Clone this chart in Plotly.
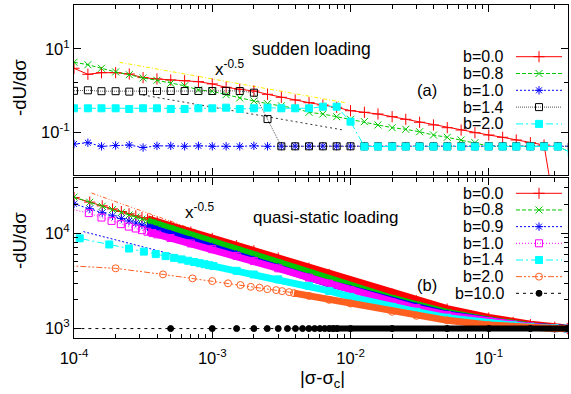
import plotly.graph_objects as go

FONT = "Liberation Sans, Arial, sans-serif"

# ---------------- top panel (a): sudden loading ----------------
top_x = [1.00e-4, 1.26e-4, 1.58e-4, 2.00e-4, 2.51e-4, 3.16e-4, 3.98e-4, 5.01e-4, 6.31e-4, 7.94e-4,
         1.00e-3, 1.26e-3, 1.58e-3, 2.00e-3, 2.51e-3, 3.16e-3, 3.98e-3, 5.01e-3, 6.31e-3, 7.94e-3,
         1.00e-2, 1.26e-2, 1.58e-2, 2.00e-2, 2.51e-2, 3.16e-2, 3.98e-2, 5.01e-2, 6.31e-2, 7.94e-2,
         1.00e-1, 1.26e-1, 1.58e-1, 2.00e-1, 2.51e-1, 3.16e-1, 3.98e-1]
top_b00 = [3.44, 2.47, 2.70, 2.70, 2.51, 2.05, 1.91, 1.80, 1.73, 1.64, 1.45, 1.20, 1.08, 0.98,
           0.817, 0.692, 0.597, 0.514, 0.452, 0.398, 0.330, 0.302, 0.275, 0.237, 0.205, 0.174,
           0.150, 0.129, 0.1135, 0.0977, 0.0861, 0.0758, 0.0653, 0.0562, 0.0495, 0.0005]
top_b08 = [4.80, 4.20, 3.44, 2.81, 2.42, 2.01, 1.77, 1.50, 1.31, 1.04, 0.97, 0.80, 0.667, 0.565,
           0.487, 0.433, 0.377, 0.302, 0.275, 0.237, 0.205, 0.180, 0.150, 0.129, 0.118, 0.103,
           0.0861, 0.0758, 0.0653, 0.0562, 0.0469, 0.0461, 0.0461, 0.0461, 0.0461, 0.0461, 0.0318]
top_b10 = [0.0524, 0.0562, 0.0461, 0.0483, 0.0495, 0.0431, 0.0472, 0.0472, 0.0461, 0.0472,
           0.0461, 0.0461, 0.0461, 0.0472, 0.0461, 0.0465, 0.0465, 0.0465, 0.0465, 0.0465,
           0.0465, 0.0465, 0.0465, 0.0465, 0.0465, 0.0465, 0.0465, 0.0465, 0.0465, 0.0465,
           0.0465, 0.0465, 0.0465, 0.0465, 0.0465, 0.0465, 0.0465]
top_b14 = [0.99, 1.02, 0.97, 0.97, 0.946, 0.97, 0.98, 0.98, 0.98, 0.98, 0.98, 0.99, 0.98, 0.893,
           0.208, 0.0461, 0.0461, 0.0461, 0.0461, 0.0461, 0.0461, 0.0461, 0.0461, 0.0461, 0.0461,
           0.0461, 0.0461, 0.0461, 0.0461, 0.0461, 0.0461, 0.0461, 0.0461, 0.0461, 0.0461, 0.0461,
           0.0461]
top_b20 = [0.377, 0.377, 0.377, 0.377, 0.362, 0.377, 0.377, 0.362, 0.362, 0.377, 0.377, 0.390,
           0.362, 0.377, 0.390, 0.377, 0.377, 0.377, 0.412, 0.412, 0.180, 0.0455, 0.0455, 0.0455,
           0.0455, 0.0455, 0.0455, 0.0455, 0.0455, 0.0455, 0.0455, 0.0455, 0.0455, 0.0455, 0.0455,
           0.0455, 0.0318]
top_guide_yellow_x = [2.13e-4, 9.12e-3]
top_guide_yellow_y = [4.80, 0.514]
top_guide_black_x = [3.15e-4, 8.85e-3]
top_guide_black_y = [0.787, 0.1135]

# ---------------- bottom panel (b): quasi-static loading ----------------
bot_x_rgb = [1.0e-4, 1.3e-4, 1.6e-4, 1.9e-4, 2.2e-4, 2.5e-4, 2.8e-4, 3.1e-4, 3.4e-4, 3.7e-4, 4.0e-4,
             5e-4, 7e-4, 1e-3, 1.5e-3, 2e-3, 3e-3, 5e-3, 7e-3, 1e-2, 2e-2, 3e-2, 5e-2, 0.1, 0.15,
             0.2, 0.3, 0.37]
bot_b00 = [23700, 21180, 19370, 17980, 16890, 15980, 15220, 14570, 14010, 13500, 13050,
           11850, 10270, 8800, 7390, 6540, 5490, 4300, 3700, 3100, 2300, 1950, 1600, 1290, 1160,
           1100, 1030, 1000]
bot_b08 = [23900, 21110, 19160, 17680, 16500, 15550, 14740, 14040, 13440, 12930, 12460,
           11200, 9570, 8090, 6700, 5950, 4900, 3850, 3250, 2750, 2080, 1780, 1480, 1230, 1120,
           1070, 1015, 1000]
bot_b09 = [20300, 18050, 16410, 15220, 14240, 13420, 12760, 12180, 11690, 11240, 10860,
           9810, 8450, 7190, 6000, 5270, 4400, 3480, 2950, 2600, 1950, 1700, 1420, 1200, 1110,
           1060, 1010, 1000]
bot_x_b10 = [0.9e-4, 1.28e-4, 1.58e-4, 1.87e-4, 2.18e-4, 2.49e-4, 2.8e-4, 3.1e-4, 3.4e-4, 3.7e-4,
             4.0e-4, 5e-4, 7e-4, 1e-3, 1.5e-3, 2e-3, 3e-3, 5e-3, 7e-3, 1e-2, 2e-2, 3e-2, 5e-2,
             0.1, 0.15, 0.2, 0.3, 0.37]
bot_b10 = [18200, 16240, 14600, 13460, 12440, 11730, 11200, 10760, 10370, 10030, 9720,
           8910, 7810, 6790, 5780, 5100, 4280, 3420, 2960, 2530, 1870, 1640, 1390, 1190, 1100,
           1055, 1010, 1000]
bot_x_b14 = [0.9e-4, 1.1e-4, 1.8e-4, 2.5e-4, 3.2e-4, 3.9e-4, 4.6e-4, 5.3e-4, 6.0e-4, 6.7e-4,
             7.4e-4, 8.1e-4, 8.8e-4, 9.5e-4, 1.02e-3, 1.5e-3, 2e-3, 3e-3, 5e-3, 7e-3, 1e-2, 2e-2,
             3e-2, 5e-2, 0.1, 0.15, 0.2, 0.3, 0.37]
bot_b14 = [9370, 8830, 7620, 6910, 6410, 6040, 5750, 5510, 5310, 5140, 4990, 4850, 4730, 4620,
           4520, 4030, 3690, 3280, 2800, 2480, 2150, 1690, 1500, 1300, 1140, 1080, 1040, 1008, 1000]
bot_x_b20 = [5e-5, 2.0e-4, 4.4e-4, 7.2e-4, 1.0e-3, 1.3e-3, 1.6e-3, 1.9e-3, 2.2e-3, 2.5e-3, 2.9e-3,
             3.2e-3, 3.6e-3, 3.9e-3, 5e-3, 7e-3, 1e-2, 2e-2, 3e-2, 5e-2, 0.1, 0.15, 0.2, 0.3, 0.37]
bot_b20 = [4790, 4280, 3700, 3360, 3150, 2980, 2860, 2740, 2680, 2590, 2530, 2470, 2410, 2350,
           2200, 2000, 1830, 1500, 1360, 1220, 1090, 1045, 1020, 1003, 1000]
bot_x_b100 = [5e-5, 5e-4, 1e-3, 1.5e-3, 2e-3, 2.5e-3, 3e-3, 3.5e-3, 4e-3, 4.5e-3, 5e-3, 5.5e-3,
              6e-3, 6.5e-3, 7e-3, 7.5e-3, 8e-3, 1e-2, 2e-2, 5e-2, 0.1, 0.2, 0.37]
bot_b100 = [1000, 1000, 1000, 1000, 1000, 1000, 1000, 1000, 1000, 1000, 1000, 1000, 1000, 1000,
            1000, 1000, 1000, 1000, 1000, 1000, 1000, 1000, 1000]
bot_guide_orange_x = [1.34e-4, 1.77e-3]
bot_guide_orange_y = [26370, 6950]
bot_guide_blue_x = [1.17e-4, 1.77e-3]
bot_guide_blue_y = [10390, 3790]

top_labels = ["b=0.0", "b=0.8", "b=1.0", "b=1.4", "b=2.0"]
bot_labels = ["b=0.0", "b=0.8", "b=0.9", "b=1.0", "b=1.4", "b=2.0", "b=10.0"]

# styles: colour, dash, symbol, marker size
RED = ("#ff0000", "solid", "cross-thin-open", 8)
GREEN = ("#00c800", "4px,2px", "x-thin-open", 7)
BLUE = ("#0000ff", "2px,2px", "asterisk-open", 7)
BLACKSQ = ("#000000", "1px,1px", "square-open", 7)
CYAN = ("#00ffff", "7px,3px,2px,3px", "square", 7)
MAGENTA = ("#ff00ff", "1px,2px", "square-open", 7)
ORANGE = ("#ff6020", "6px,2px,2px,2px,2px,2px", "circle-open", 7)
BLACKDOT = ("#000000", "3px,4px", "circle", 6)

fig = go.Figure()


def add_series(x, y, style, xa, ya, band_from=None, band_w=7, line_color=None):
    color, dash, symbol, size = style
    if band_from is not None:
        fig.add_trace(go.Scatter(x=x[band_from:], y=y[band_from:], mode="lines",
                                 line=dict(color=color, width=band_w),
                                 xaxis=xa, yaxis=ya, showlegend=False, hoverinfo="skip"))
    fig.add_trace(go.Scatter(x=x, y=y, mode="lines+markers",
                             line=dict(color=line_color or color, width=1, dash=dash),
                             marker=dict(symbol=symbol, size=size, color=color,
                                         line=dict(color=color, width=1)),
                             xaxis=xa, yaxis=ya, showlegend=False))


# guide lines
fig.add_trace(go.Scatter(x=top_guide_yellow_x, y=top_guide_yellow_y, mode="lines",
                         line=dict(color="#ffee00", width=1, dash="4px,2px,1px,2px"),
                         xaxis="x", yaxis="y", showlegend=False))
fig.add_trace(go.Scatter(x=top_guide_black_x, y=top_guide_black_y, mode="lines",
                         line=dict(color="#333333", width=1, dash="2px,3px"),
                         xaxis="x", yaxis="y", showlegend=False))

add_series(top_x[:len(top_b00)], top_b00, RED, "x", "y")
add_series(top_x, top_b08, GREEN, "x", "y")
add_series(top_x, top_b10, BLUE, "x", "y")
add_series(top_x, top_b14, BLACKSQ, "x", "y", line_color="#555555")
add_series(top_x, top_b20, CYAN, "x", "y")

fig.add_trace(go.Scatter(x=bot_guide_orange_x, y=bot_guide_orange_y, mode="lines",
                         line=dict(color="#ff6020", width=1, dash="4px,2px,1px,2px,1px,2px"),
                         xaxis="x2", yaxis="y2", showlegend=False))
fig.add_trace(go.Scatter(x=bot_guide_blue_x, y=bot_guide_blue_y, mode="lines",
                         line=dict(color="#0000ff", width=1, dash="2px,2px"),
                         xaxis="x2", yaxis="y2", showlegend=False))

add_series(bot_x_rgb, bot_b00, RED, "x2", "y2", band_from=8, band_w=8)
add_series(bot_x_rgb, bot_b08, GREEN, "x2", "y2", band_from=8, band_w=7)
add_series(bot_x_rgb, bot_b09, BLUE, "x2", "y2", band_from=8, band_w=7)
add_series(bot_x_b10, bot_b10, MAGENTA, "x2", "y2", band_from=8, band_w=7)
add_series(bot_x_b14, bot_b14, CYAN, "x2", "y2", band_from=14, band_w=7)
add_series(bot_x_b20, bot_b20, ORANGE, "x2", "y2", band_from=13, band_w=7)
add_series(bot_x_b100, bot_b100, BLACKDOT, "x2", "y2", band_from=14, band_w=6)

# ---------------- hand-made legends (gnuplot style: text left, sample right) ----------------
PL, PR, PT, PB = 74, 568, 5, 338   # plot-area pixel box


def px2paper(px, py):
    return (px - PL) / (PR - PL), (PB - py) / (PB - PT)


LX0, LX1, LXM, LTX = 516, 562, 539, 505
annotations = []


def txt(x, y, s, size=16, angle=0, xanchor="center"):
    px, py = px2paper(x, y)
    annotations.append(dict(x=px, y=py, xref="paper", yref="paper", text=s, showarrow=False,
                            xanchor=xanchor, yanchor="middle", textangle=angle, borderpad=0,
                            font=dict(family=FONT, size=size, color="black")))


def legend_block(labels, styles, y0, dy, line_colors=None):
    for k, (lab, st) in enumerate(zip(labels, styles)):
        color, dash, symbol, size = st
        yy = y0 + dy * k
        lc = (line_colors[k] if line_colors else None) or color
        fig.add_trace(go.Scatter(x=[LX0, LX1], y=[yy, yy], mode="lines",
                                 line=dict(color=lc, width=1, dash=dash),
                                 xaxis="x3", yaxis="y3", showlegend=False, hoverinfo="skip"))
        fig.add_trace(go.Scatter(x=[LXM], y=[yy], mode="markers",
                                 marker=dict(symbol=symbol, size=size, color=color,
                                             line=dict(color=color, width=1)),
                                 xaxis="x3", yaxis="y3", showlegend=False, hoverinfo="skip"))
        txt(LTX, yy, lab, size=16, xanchor="right")


legend_block(top_labels, [RED, GREEN, BLUE, BLACKSQ, CYAN], 56.7, 16.8,
             line_colors=[None, None, None, "#555555", None])
legend_block(bot_labels, [RED, GREEN, BLUE, MAGENTA, CYAN, ORANGE, BLACKDOT], 193.3, 16.67)

txt(311, 49, "sudden loading", size=17.5)
txt(229, 68, "x<sup>-0.5</sup>", size=17)
txt(427, 90, "(a)", size=16.5)
txt(326, 217, "quasi-static loading", size=17)
txt(199, 211, "x<sup>-0.5</sup>", size=17)
txt(427, 285, "(b)", size=16.5)
txt(19, 88, "-dU/dσ", size=18.5, angle=-90)
txt(19, 241, "-dU/dσ", size=18.5, angle=-90)
txt(322, 379, "|σ-σ<sub>c</sub>|", size=18.5)

minor_x = [k * 10.0 ** e for e in (-4, -3, -2, -1) for k in range(2, 10) if k * 10.0 ** e < 0.374]
minor_y2 = [k * 1e3 for k in range(2, 10)] + [2e4, 3e4]

axis_common = dict(type="log", showgrid=False, zeroline=False, showline=True, linecolor="black",
                   linewidth=1, mirror="allticks", ticks="inside", ticklen=7, tickcolor="black",
                   tickfont=dict(family=FONT, size=16.5, color="black"))
xrange = [-4, -0.427]
xt_vals = [1e-4, 1e-3, 1e-2, 1e-1]
xt_text = ["10<sup>-4</sup>", "10<sup>-3</sup>", "10<sup>-2</sup>", "10<sup>-1</sup>"]

fig.update_layout(
    width=571, height=394,
    margin=dict(l=PL, r=571 - PR, t=PT, b=394 - PB),
    paper_bgcolor="white", plot_bgcolor="rgba(0,0,0,0)",
    showlegend=False,
    xaxis=dict(domain=[0, 1], anchor="y", range=xrange, tickmode="array", tickvals=xt_vals,
               showticklabels=False,
               minor=dict(ticks="inside", ticklen=4, tickcolor="black", tickvals=minor_x),
               **axis_common),
    yaxis=dict(domain=[0.4895, 1], anchor="x", range=[-2.025, 2.056], tickmode="array",
               tickvals=[0.1, 10], ticktext=["10<sup>-1</sup>", "10<sup>1</sup>"],
               minor=dict(ticks="inside", ticklen=4, tickcolor="black", tickvals=[1.55]),
               **axis_common),
    xaxis2=dict(domain=[0, 1], anchor="y2", range=xrange, tickmode="array", tickvals=xt_vals,
                ticktext=xt_text, ticklabelstandoff=5,
                minor=dict(ticks="inside", ticklen=4, tickcolor="black", tickvals=minor_x),
                **axis_common),
    yaxis2=dict(domain=[0, 0.4805], anchor="x2", range=[2.901, 4.579], tickmode="array",
                tickvals=[1e3, 1e4], ticktext=["10<sup>3</sup>", "10<sup>4</sup>"],
                minor=dict(ticks="inside", ticklen=4, tickcolor="black", tickvals=minor_y2),
                **axis_common),
    xaxis3=dict(domain=[0, 1], anchor="y3", range=[PL, PR], visible=False),
    yaxis3=dict(domain=[0, 1], anchor="x3", range=[PB, PT], visible=False),
    annotations=annotations,
)

fig.write_html("out.html", config={"displayModeBar": False},
               post_script="document.body.style.margin='0';document.body.style.overflow='hidden';")
